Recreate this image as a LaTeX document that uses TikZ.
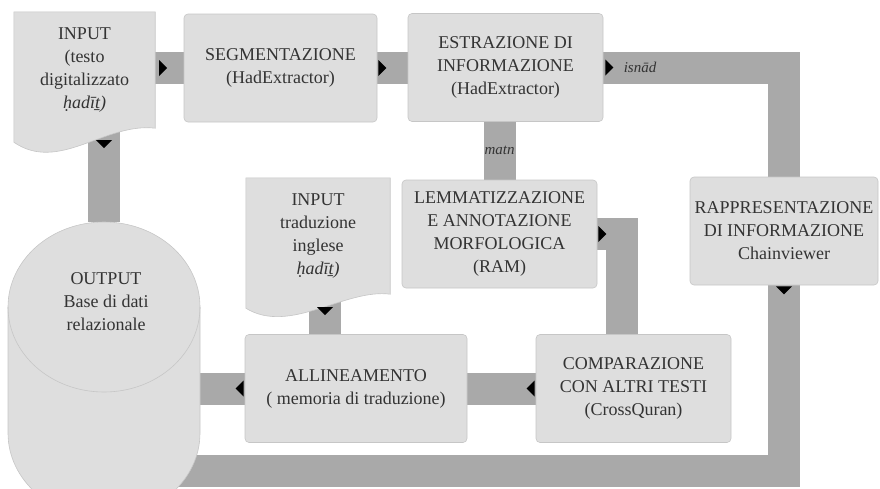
\documentclass[tikz,border=0pt]{standalone}
\usepackage{fontspec}
\setmainfont{Liberation Serif}
\usepackage{tikz}
\usetikzlibrary{calc}

\definecolor{boxgray}{HTML}{DEDEDE}
\definecolor{bandgray}{HTML}{A9A9A9}
\definecolor{edgegray}{HTML}{C6C6C6}
\definecolor{ink}{HTML}{333333}

\pgfdeclarelayer{bands}
\pgfdeclarelayer{shapes}
\pgfsetlayers{bands,shapes,main}

% document shape with a wavy bottom, drawn behind the text node #1
\newcommand{\docshape}[4]{%
    \begin{pgfonlayer}{shapes}
        \filldraw[fill=boxgray, draw=edgegray, line width=0.6pt] (#1.north west) -- (#1.north east) -- (#1.south east)
            .. controls ($(#1.south east)+#3$) and ($(#1.south west)+#4$) .. ($(#1.south west)+(0,#2)$) -- cycle;
    \end{pgfonlayer}}

\tikzset{
    flowtip/.pic = {\fill[black] (0,-8) -- (8,0) -- (0,8) -- cycle;}
}

\begin{document}
\begin{tikzpicture}[
        x = 1pt, y = -1pt,
        every node/.style = {text=ink, font=\fontsize{18}{23}\selectfont},
        box/.style = {
            draw=edgegray,
            fill=boxgray,
            line width=0.6pt,
            rounded corners=4pt,
            align=center,
            inner sep=0pt,
            minimum width=#1,
            minimum height=108
        },
        box/.default = 195,
        doc/.style = {align=center, inner sep=0pt, minimum width=#1, minimum height=116},
        band/.style = {draw=bandgray, line width=32pt, line join=miter},
        tag/.style = {font=\fontsize{15}{17}\selectfont\itshape}
        ]
        \useasboundingbox (0,0) rectangle (880,488);
%
        \node[doc=141] (in1) at (84.5,70) {INPUT\\(testo\\digitalizzato\\\textit{ḥadīṯ)}};
        \docshape{in1}{14}{(-50,-6)}{(45,45)}
        \node[box=193] (seg) at (280.5,68) {SEGMENTAZIONE\\(HadExtractor)};
        \node[box] (estr) at (505.5,67.5) {ESTRAZIONE DI\\INFORMAZIONE\\(HadExtractor)};
%
        \node[box=188] (rappr) at (784,231) {RAPPRESENTAZIONE\\DI INFORMAZIONE\\Chainviewer};
        \node[box] (lemm) at (499.5,234) {LEMMATIZZAZIONE\\E ANNOTAZIONE\\MORFOLOGICA\\(RAM)};
        \node[doc=144] (in2) at (318,236) {INPUT\\traduzione\\inglese\\\textit{ḥadīṯ)}};
        \docshape{in2}{14}{(-45,-6)}{(44,41)}
%
        \node[box] (comp) at (633.5,388.5) {COMPARAZIONE\\CON ALTRI TESTI\\(CrossQuran)};
        \node[box=222] (allin) at (356,388.5) {ALLINEAMENTO\\( memoria di traduzione)};
%
        % database cylinder
        \begin{pgfonlayer}{shapes}
            \filldraw[fill=boxgray, draw=edgegray, line width=0.6pt] (8,307) -- (8,433)
                arc[start angle=180, end angle=0, x radius=96, y radius=85] -- (200,307)
                arc[start angle=0, end angle=-180, x radius=96, y radius=85] -- cycle;
            \draw[edgegray, line width=0.6pt] (8,307) arc[start angle=180, end angle=0, x radius=96, y radius=85];
        \end{pgfonlayer}
        \node[minimum width=192, minimum height=296, inner sep=0pt] (db) at (104,370) {};
        \node[align=center] (dbtext) at (106,302) {OUTPUT\\Base di dati\\relazionale};
        \coordinate (dbfoot) at (104,471);
%
        \begin{pgfonlayer}{bands}
            \draw[band] (in1.east|-seg.west) -- (seg.west);
            \draw[band] (seg.east) -- (seg.east-|estr.west);
            \draw[band] (estr.east) -| (rappr.north);
            \draw[band] (rappr.south) |- (dbfoot);
            \draw[band] (estr.south-|lemm.north) -- (lemm.north);
            \draw[band] (lemm.east) -| ([xshift=-12]comp.north);
            \draw[band] (comp.west) -- (allin.east);
            \draw[band] (allin.west) -- (allin.west-|db.east);
            \draw[band] ([xshift=7]in2.south) -- ([xshift=7]in2.south|-allin.north);
            \draw[band] (db.north) -- (db.north|-in1.south);
        \end{pgfonlayer}
%
        \node[tag] (isnad) at (640,67) {isnād};
        \node[tag] (matn) at (lemm.north|-0,150) {matn};
%
        \pic at ([xshift=4]in1.east|-seg.west) {flowtip};
        \pic at ([xshift=1]seg.east) {flowtip};
        \pic at ([xshift=2]estr.east) {flowtip};
        \pic[rotate=-90] at ([yshift=-1]rappr.south) {flowtip};
        \pic at ([xshift=1]lemm.east) {flowtip};
        \pic[rotate=180] at ([xshift=-1]comp.west) {flowtip};
        \pic[rotate=180] at ([xshift=-1]allin.west) {flowtip};
        \pic[rotate=-90] at ([xshift=7,yshift=-13]in2.south) {flowtip};
        \pic[rotate=-90] at ([yshift=-12]db.north|-in1.south) {flowtip};
    \end{tikzpicture}
\end{document}
